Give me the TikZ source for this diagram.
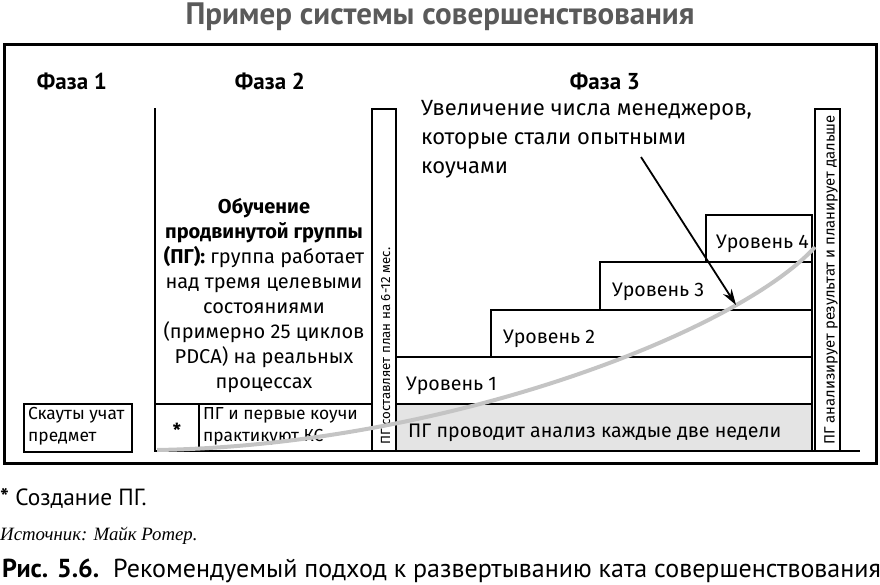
\documentclass[tikz,border=0pt]{standalone}
\usepackage{fontspec}
\setmainfont{Fira Sans}
\newfontfamily\narrowfont{PT Sans}
\newfontfamily\srcfont{Liberation Serif}
\usepackage{xcolor}
\usepackage{tikz}
\usetikzlibrary{arrows.meta}
\definecolor{titlegray}{HTML}{5A5A5A}
\definecolor{bandgray}{HTML}{E4E4E4}
\definecolor{curvegray}{HTML}{C4C4C4}

\begin{document}
\begin{tikzpicture}[x=1pt,y=-1pt,every node/.style={inner sep=0pt},
  lbl/.style={anchor=base west,font=\fontsize{19.6}{22}\selectfont},
  small/.style={anchor=north west,align=left,font=\fontsize{17.4}{22}\selectfont},
  side/.style={rotate=90,anchor=base west},
  phase/.style={anchor=base,font=\narrowfont\bfseries\fontsize{23}{26}\selectfont},
  thin/.style={line width=1.1pt},
  growth/.style={curvegray,line width=4pt},
  pointer/.style={line width=1.8pt,-{Stealth[length=16pt,width=10pt]}}]
  \useasboundingbox (0,0) rectangle (880,584);
  % title and frame
  \node[anchor=base,text=titlegray,font=\narrowfont\bfseries\fontsize{31}{33}\selectfont] (title) at (440,24) {Пример системы совершенствования};
  \draw[line width=3pt] (4,44) rectangle (876,463);
  \node[phase] (ph1) at (72,89) {Фаза 1};
  \node[phase] (ph2) at (270,89) {Фаза 2};
  \node[phase] (ph3) at (605,89) {Фаза 3};

  % phase 3 levels
  \fill[bandgray] (396,404) rectangle (812,451);
  \draw[thin] (396,404) rectangle (812,451);
  \draw[thin] (396,357) rectangle (812,404);
  \draw[thin] (491,310) rectangle (812,357);
  \draw[thin] (600,262) rectangle (812,310);
  \draw[thin] (706,215) rectangle (812,262);
  \node[lbl] (band) at (408,437) {ПГ проводит анализ каждые две недели};
  \node[lbl] (lvl1) at (406,390) {Уровень 1};
  \node[lbl] (lvl2) at (503,343) {Уровень 2};
  \node[lbl] (lvl3) at (612,296) {Уровень 3};
  \node[lbl] (lvl4) at (716,248) {Уровень 4};

  % narrow boxes
  \draw[thin] (372,109) rectangle (396,451);
  \draw[thin] (815,109) rectangle (840,451);
  \node[side,font=\fontsize{13.3}{15}\selectfont] (plan) at (390,445) {ПГ составляет план на 6-12 мес.};
  \node[side,font=\fontsize{14.9}{15}\selectfont] (review) at (834.5,445) {ПГ анализирует результат и планирует дальше};

  % phase 2
  \draw[line width=2pt] (155,108) -- (155,451);
  \draw[line width=2pt] (154,451) -- (860,451);
  \draw[thin] (155,404) -- (372,404);
  \draw[thin] (199,404) -- (199,451);
  \node[align=center,font=\fontsize{20}{25}\selectfont] (train) at (264,296)
    {\textbf{Обучение}\\ \textbf{продвинутой группы}\\ \textbf{(ПГ):} группа работает\\ над тремя целевыми\\ состояниями\\ (примерно 25 циклов\\ PDCA) на реальных\\ процессах};
  \node[font=\fontsize{18}{20}\selectfont\bfseries] (star) at (177,430) {*};
  \node[small] (coach) at (203,407) {ПГ и первые коучи\\ практикуют КС};

  % phase 1
  \draw[thin] (24,404) rectangle (132,452);
  \node[small] (scouts) at (28,407) {Скауты учат\\ предмет};

  % growth curve and pointer
  \coordinate (cstart) at (157,450);
  \coordinate (cend) at (815,247);
  \draw[growth] (cstart) .. controls (450,445) and (740,330) .. (cend);
  \node[anchor=north west,align=left,font=\fontsize{22}{29}\selectfont] (more) at (421,100)
    {Увеличение числа менеджеров,\\ которые стали опытными\\ коучами};
  \coordinate (ptail) at (641,157);
  \coordinate (ptip) at (736,305);
  \draw[pointer] (ptail) -- (ptip);

  % notes below
  \node[anchor=base west,font=\narrowfont\fontsize{23.4}{24}\selectfont] (note) at (0,505) {\textbf{*} Создание ПГ.};
  \node[anchor=base west,font=\srcfont\itshape\fontsize{18.8}{20}\selectfont] (src) at (0,540) {Источник: Майк Ротер.};
  \node[anchor=base west,font=\narrowfont\fontsize{26}{28}\selectfont] (cap) at (2,577) {\textbf{Рис. 5.6.}\ \ Рекомендуемый подход к развертыванию ката совершенствования};
\end{tikzpicture}
\end{document}
